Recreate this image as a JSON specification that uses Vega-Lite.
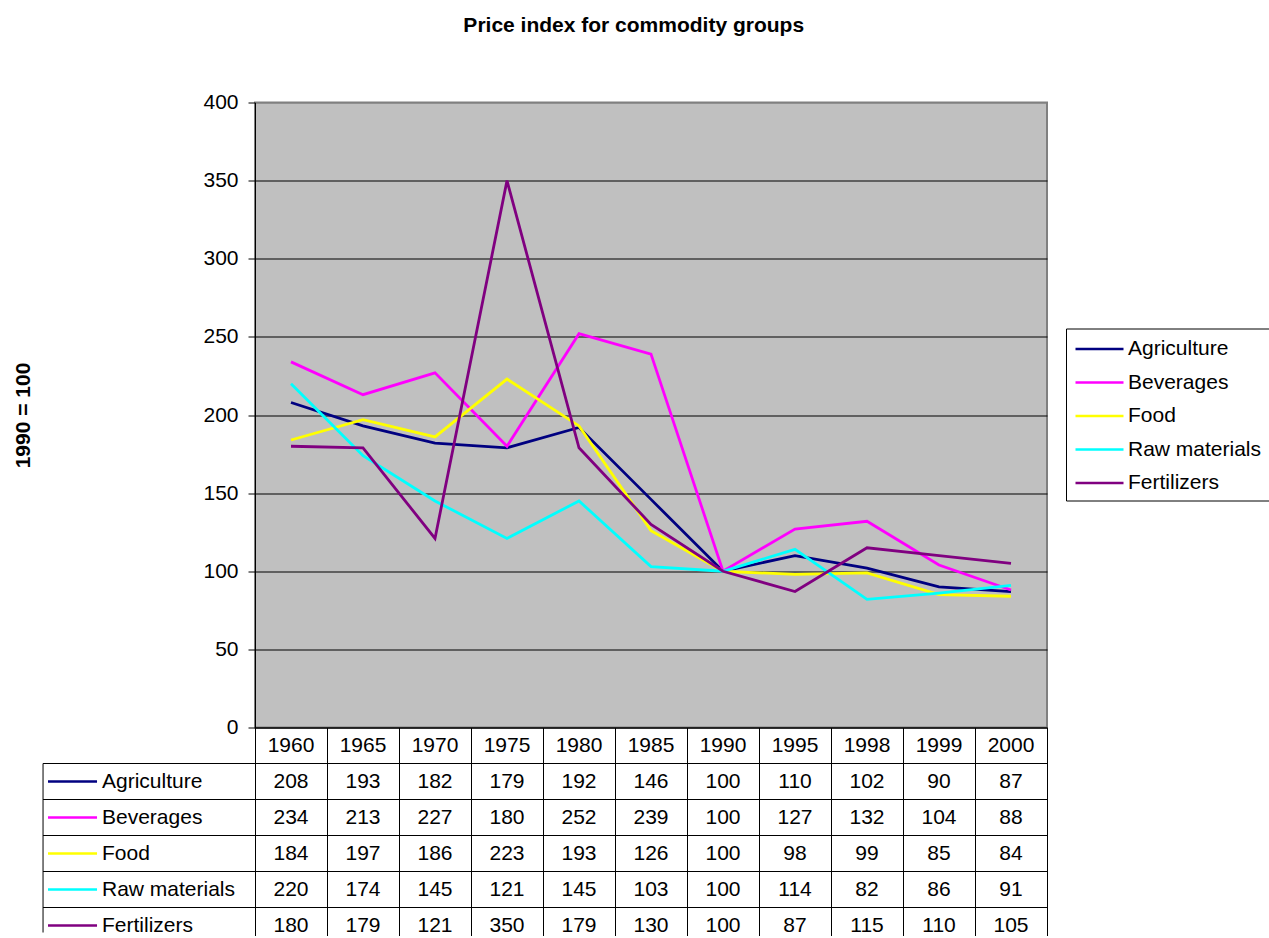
{
  "$schema": "https://vega.github.io/schema/vega-lite/v6.json",
  "padding": {"left": 11, "top": 14.5, "right": 0, "bottom": 0},
  "bounds": "flush",
  "spacing": 0,
  "background": "#ffffff",
  "title": {"text": "Price index for commodity groups", "font": "Liberation Sans", "fontSize": 21, "fontWeight": "bold", "color": "#000000", "anchor": "middle", "offset": 54.5, "dx": -7},
  "config": {"font": "Liberation Sans", "text": {"font": "Liberation Sans"}},
  "datasets": {
    "prices": [
      {"series": "Agriculture", "year": 1960, "value": 208},
      {"series": "Agriculture", "year": 1965, "value": 193},
      {"series": "Agriculture", "year": 1970, "value": 182},
      {"series": "Agriculture", "year": 1975, "value": 179},
      {"series": "Agriculture", "year": 1980, "value": 192},
      {"series": "Agriculture", "year": 1985, "value": 146},
      {"series": "Agriculture", "year": 1990, "value": 100},
      {"series": "Agriculture", "year": 1995, "value": 110},
      {"series": "Agriculture", "year": 1998, "value": 102},
      {"series": "Agriculture", "year": 1999, "value": 90},
      {"series": "Agriculture", "year": 2000, "value": 87},
      {"series": "Beverages", "year": 1960, "value": 234},
      {"series": "Beverages", "year": 1965, "value": 213},
      {"series": "Beverages", "year": 1970, "value": 227},
      {"series": "Beverages", "year": 1975, "value": 180},
      {"series": "Beverages", "year": 1980, "value": 252},
      {"series": "Beverages", "year": 1985, "value": 239},
      {"series": "Beverages", "year": 1990, "value": 100},
      {"series": "Beverages", "year": 1995, "value": 127},
      {"series": "Beverages", "year": 1998, "value": 132},
      {"series": "Beverages", "year": 1999, "value": 104},
      {"series": "Beverages", "year": 2000, "value": 88},
      {"series": "Food", "year": 1960, "value": 184},
      {"series": "Food", "year": 1965, "value": 197},
      {"series": "Food", "year": 1970, "value": 186},
      {"series": "Food", "year": 1975, "value": 223},
      {"series": "Food", "year": 1980, "value": 193},
      {"series": "Food", "year": 1985, "value": 126},
      {"series": "Food", "year": 1990, "value": 100},
      {"series": "Food", "year": 1995, "value": 98},
      {"series": "Food", "year": 1998, "value": 99},
      {"series": "Food", "year": 1999, "value": 85},
      {"series": "Food", "year": 2000, "value": 84},
      {"series": "Raw materials", "year": 1960, "value": 220},
      {"series": "Raw materials", "year": 1965, "value": 174},
      {"series": "Raw materials", "year": 1970, "value": 145},
      {"series": "Raw materials", "year": 1975, "value": 121},
      {"series": "Raw materials", "year": 1980, "value": 145},
      {"series": "Raw materials", "year": 1985, "value": 103},
      {"series": "Raw materials", "year": 1990, "value": 100},
      {"series": "Raw materials", "year": 1995, "value": 114},
      {"series": "Raw materials", "year": 1998, "value": 82},
      {"series": "Raw materials", "year": 1999, "value": 86},
      {"series": "Raw materials", "year": 2000, "value": 91},
      {"series": "Fertilizers", "year": 1960, "value": 180},
      {"series": "Fertilizers", "year": 1965, "value": 179},
      {"series": "Fertilizers", "year": 1970, "value": 121},
      {"series": "Fertilizers", "year": 1975, "value": 350},
      {"series": "Fertilizers", "year": 1980, "value": 179},
      {"series": "Fertilizers", "year": 1985, "value": 130},
      {"series": "Fertilizers", "year": 1990, "value": 100},
      {"series": "Fertilizers", "year": 1995, "value": 87},
      {"series": "Fertilizers", "year": 1998, "value": 115},
      {"series": "Fertilizers", "year": 1999, "value": 110},
      {"series": "Fertilizers", "year": 2000, "value": 105}
    ]
  },
  "resolve": {"scale": {"x": "independent", "y": "independent", "color": "shared"}, "legend": {"color": "shared"}},
  "vconcat": [
    {
      "width": 792,
      "height": 625,
      "view": {"fill": "#C0C0C0", "stroke": "#808080", "strokeWidth": 2},
      "data": {"name": "prices"},
      "mark": {"type": "line", "strokeWidth": 2.8},
      "encoding": {
        "x": {"field": "year", "type": "ordinal", "scale": {"type": "point", "padding": 0.5},
              "axis": {"title": null, "labels": false, "ticks": false, "grid": false, "domain": true, "domainColor": "#000000", "domainWidth": 1}},
        "y": {"field": "value", "type": "quantitative", "scale": {"domain": [0, 400], "nice": false, "zero": true},
              "axis": {"title": "1990 = 100", "values": [0, 50, 100, 150, 200, 250, 300, 350, 400],
                       "titleFont": "Liberation Sans", "titleFontSize": 21, "titleFontWeight": "bold", "titleColor": "#000000", "titlePadding": 169,
                       "labelFont": "Liberation Sans", "labelFontSize": 21, "labelColor": "#000000", "labelPadding": 10,
                       "tickSize": 7, "tickColor": "#000000", "tickWidth": 1,
                       "domain": true, "domainColor": "#000000", "domainWidth": 1,
                       "grid": true, "gridColor": {"condition": {"test": "datum.value === 400", "value": "#808080"}, "value": "#000000"}, "gridWidth": 1}},
        "color": {"field": "series", "type": "nominal",
                  "scale": {"domain": ["Agriculture", "Beverages", "Food", "Raw materials", "Fertilizers"], "range": ["#000080", "#FF00FF", "#FFFF00", "#00FFFF", "#800080"]},
                  "legend": {"title": null, "orient": "none", "legendX": 811, "legendY": 226,
                             "symbolType": "M-2,0H2", "symbolSize": 576, "symbolStrokeWidth": 2.6, "symbolOffset": 13,
                             "labelFont": "Liberation Sans", "labelFontSize": 21, "labelColor": "#000000", "labelOffset": 15,
                             "rowPadding": 9.5, "padding": 7, "strokeColor": "#000000", "fillColor": "#FFFFFF"}}
      }
    },
    {
      "width": 792,
      "height": 205,
      "view": {"stroke": null},
      "data": {"name": "prices"},
      "resolve": {"scale": {"x": "independent"}},
      "layer": [
        {
          "mark": {"type": "text", "fontSize": 21, "color": "#000000", "font": "Liberation Sans"},
          "encoding": {
            "x": {"field": "year", "type": "ordinal", "scale": {"type": "band", "paddingInner": 0, "paddingOuter": 0},
                  "axis": {"orient": "top", "title": null, "labels": false, "ticks": false, "domain": false, "grid": true, "tickBand": "extent", "gridColor": "#000000", "gridWidth": 1}},
            "y": {"field": "series", "type": "nominal", "scale": {"domain": ["Year", "Agriculture", "Beverages", "Food", "Raw materials", "Fertilizers"], "range": [0, 216], "paddingInner": 0, "paddingOuter": 0}, "axis": null},
            "text": {"field": "value", "type": "quantitative"}
          }
        },
        {
          "transform": [{"filter": "datum.series === 'Agriculture'"}],
          "mark": {"type": "text", "fontSize": 21, "color": "#000000", "font": "Liberation Sans"},
          "encoding": {
            "x": {"field": "year", "type": "ordinal", "scale": {"type": "band", "paddingInner": 0, "paddingOuter": 0}, "axis": null},
            "y": {"datum": "Year", "type": "nominal", "scale": {"domain": ["Year", "Agriculture", "Beverages", "Food", "Raw materials", "Fertilizers"], "range": [0, 216], "paddingInner": 0, "paddingOuter": 0}, "axis": null},
            "text": {"field": "year", "type": "ordinal"}
          }
        },
        {
          "transform": [{"filter": "datum.year === 1960"}],
          "mark": {"type": "rule", "color": "#000000", "strokeWidth": 1},
          "encoding": {
            "x": {"datum": -2.944, "type": "quantitative", "scale": {"domain": [0, 11], "nice": false, "zero": false}, "axis": null},
            "x2": {"datum": 11},
            "y": {"field": "series", "type": "nominal", "bandPosition": 0, "scale": {"domain": ["Year", "Agriculture", "Beverages", "Food", "Raw materials", "Fertilizers"], "range": [0, 216], "paddingInner": 0, "paddingOuter": 0}, "axis": null}
          }
        },
        {
          "transform": [{"filter": "datum.year === 1960 && datum.series === 'Agriculture'"}],
          "mark": {"type": "rule", "color": "#000000", "strokeWidth": 1},
          "encoding": {
            "x": {"datum": -2.944, "type": "quantitative", "scale": {"domain": [0, 11], "nice": false, "zero": false}, "axis": null},
            "y": {"field": "series", "type": "nominal", "bandPosition": 0, "scale": {"domain": ["Year", "Agriculture", "Beverages", "Food", "Raw materials", "Fertilizers"], "range": [0, 216], "paddingInner": 0, "paddingOuter": 0}, "axis": null},
            "y2": {"value": "height"}
          }
        },
        {
          "transform": [{"filter": "datum.year === 1960"}],
          "mark": {"type": "rule", "strokeWidth": 2.6},
          "encoding": {
            "x": {"datum": -2.875, "type": "quantitative", "scale": {"domain": [0, 11], "nice": false, "zero": false}, "axis": null},
            "x2": {"datum": -2.194},
            "y": {"field": "series", "type": "nominal", "bandPosition": 0.5, "scale": {"domain": ["Year", "Agriculture", "Beverages", "Food", "Raw materials", "Fertilizers"], "range": [0, 216], "paddingInner": 0, "paddingOuter": 0}, "axis": null},
            "color": {"field": "series", "type": "nominal"}
          }
        },
        {
          "transform": [{"filter": "datum.year === 1960"}],
          "mark": {"type": "text", "fontSize": 21, "color": "#000000", "align": "left", "font": "Liberation Sans"},
          "encoding": {
            "x": {"datum": -2.125, "type": "quantitative", "scale": {"domain": [0, 11], "nice": false, "zero": false}, "axis": null},
            "y": {"field": "series", "type": "nominal", "bandPosition": 0.5, "scale": {"domain": ["Year", "Agriculture", "Beverages", "Food", "Raw materials", "Fertilizers"], "range": [0, 216], "paddingInner": 0, "paddingOuter": 0}, "axis": null},
            "text": {"field": "series", "type": "nominal"}
          }
        }
      ]
    }
  ]
}
